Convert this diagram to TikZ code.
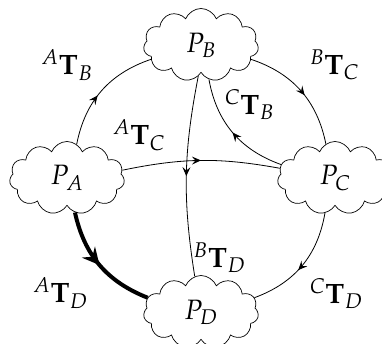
\documentclass[tikz,border=0pt]{standalone}
\usepackage{mathpazo}
\usepackage{tikz}
\usetikzlibrary{arrows.meta,shapes.symbols,decorations.markings}
\tikzset{
  party/.style={cloud, draw, line width=0.7pt, cloud puffs=11, cloud puff arc=135, cloud ignores aspect, shape border rotate=90, minimum width=115pt, minimum height=73pt, inner sep=0pt, font=\fontsize{28}{32}\selectfont},
  lbl/.style={inner sep=0pt, font=\fontsize{28}{32}\selectfont},
  midarrow/.style={postaction={decorate}, decoration={markings, mark=at position #1 with {\arrow{Stealth[length=9pt, width=8pt, inset=3.5pt]}}}},
  link/.style={line width=0.8pt, midarrow=#1},
  biglink/.style={line width=4pt, postaction={decorate}, decoration={markings, mark=at position #1 with {\arrow{Stealth[length=17pt, width=17pt, inset=6pt]}}}}
}

\begin{document}
\begin{tikzpicture}[x=1pt,y=1pt]
  \useasboundingbox (0,0) rectangle (382,343);
  \node[party] (pb) at (201,298) {$P_B$};
  \node[party] (pa) at (67,165) {$P_A$};
  \node[party] (pc) at (335,165) {$P_C$};
  \node[party] (pd) at (201,31) {$P_D$};

  \draw[link=0.45] (pa.74) to[bend left=30] (pb.196);
  \draw[link=0.55] (pb.-16) to[bend left=30] (pc.105);
  \draw[link=0.5] (pc.166) to[bend left=30] (pb.-77);
  \draw[link=0.5] (pa.8) to[bend left=11] (pc.170);
  \draw[link=0.5] (pb.-95) to[bend right=10] (pd.100);
  \draw[biglink=0.5] (pa.-77) to[bend right=28] (pd.165);
  \draw[link=0.55] (pc.-106) to[bend left=30] (pd.15);

  \node[lbl] (tab) at (67,278) {$^{A}\mathbf{T}_{B}$};
  \node[lbl] (tbc) at (334.5,278) {$^{B}\mathbf{T}_{C}$};
  \node[lbl] (tcb) at (249.5,238.5) {$^{C}\mathbf{T}_{B}$};
  \node[lbl] (tac) at (139,208) {$^{A}\mathbf{T}_{C}$};
  \node[lbl] (tbd) at (219.5,85.5) {$^{B}\mathbf{T}_{D}$};
  \node[lbl] (tad) at (60.5,50) {$^{A}\mathbf{T}_{D}$};
  \node[lbl] (tcd) at (336.5,49.5) {$^{C}\mathbf{T}_{D}$};
\end{tikzpicture}
\end{document}
